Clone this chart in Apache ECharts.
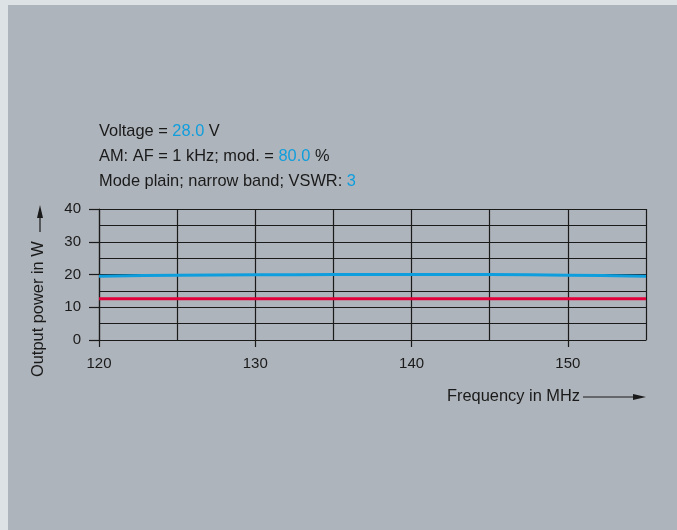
<!DOCTYPE html>
<html>
<head>
<meta charset="utf-8">
<script src="https://cdn.jsdelivr.net/npm/echarts@6/dist/echarts.min.js"></script>
<style>
  html, body { margin: 0; padding: 0; background: #dde2e5; }
  #panel { position: absolute; left: 8px; top: 5px; width: 669px; height: 525px; background: #aeb4bb; }
  #chart { position: absolute; left: 0; top: 0; width: 677px; height: 530px; }
</style>
</head>
<body>
<div id="panel"></div>
<div id="chart"></div>
<script>
// Frequency sweep (MHz) and measured output power (W)
const frequencyMHz = [120, 125, 130, 135, 140, 145, 150, 155];
const powerCarrierW = [19.5, 19.8, 19.9, 20.0, 20.0, 20.0, 19.8, 19.5];
const powerAmW = [12.6, 12.6, 12.6, 12.6, 12.6, 12.6, 12.6, 12.6];

// Labelled tick positions
const xLabelTicks = [120, 130, 140, 150];
const yLabelTicks = [0, 10, 20, 30, 40];

// Test conditions
const voltageV = '28.0';
const audioFreq = '1 kHz';
const modulationPct = '80.0';
const vswr = '3';

const FONT = '"Liberation Sans", Arial, sans-serif';
const INK = '#1a1a1a';
const BLUE = '#0f9edd';
const RED = '#e2003a';

const chart = echarts.init(document.getElementById('chart'), null, { renderer: 'canvas' });

const stroke = { color: INK, width: 1.2 };
const labelStyle = { color: INK, fontFamily: FONT, fontSize: 15 };

chart.setOption({
  backgroundColor: 'transparent',
  animation: false,
  grid: { left: 99, right: 31, top: 209, bottom: 190, containLabel: false },
  xAxis: [
    { // grid lines every 5 MHz
      type: 'value', min: 120, max: 155, interval: 5,
      axisLine: { show: true, onZero: false, lineStyle: stroke },
      axisTick: { show: false }, axisLabel: { show: false },
      splitLine: { show: true, lineStyle: stroke }
    },
    { // labelled ticks every 10 MHz
      type: 'value', min: 120, max: 155, interval: 5, position: 'bottom',
      axisLine: { show: false, onZero: false },
      axisTick: { show: true, length: 7, customValues: xLabelTicks, lineStyle: stroke },
      axisLabel: Object.assign({ customValues: xLabelTicks, margin: 16 }, labelStyle),
      splitLine: { show: false }
    }
  ],
  yAxis: [
    { // grid lines every 5 W
      type: 'value', min: 0, max: 40, interval: 5,
      axisLine: { show: true, lineStyle: stroke },
      axisTick: { show: false }, axisLabel: { show: false },
      splitLine: { show: true, lineStyle: stroke }
    },
    { // labelled ticks every 10 W
      type: 'value', min: 0, max: 40, interval: 5, position: 'left',
      axisLine: { show: false },
      axisTick: { show: true, length: 10, customValues: yLabelTicks, lineStyle: stroke },
      axisLabel: Object.assign({ customValues: yLabelTicks, margin: 18 }, labelStyle),
      splitLine: { show: false }
    }
  ],
  series: [
    {
      name: 'Carrier',
      type: 'line',
      data: frequencyMHz.map((f, i) => [f, powerCarrierW[i]]),
      smooth: 0.3,
      showSymbol: false,
      lineStyle: { color: BLUE, width: 3 },
      z: 3
    },
    {
      name: 'AM',
      type: 'line',
      data: frequencyMHz.map((f, i) => [f, powerAmW[i]]),
      showSymbol: false,
      lineStyle: { color: RED, width: 3 },
      z: 3
    }
  ],
  graphic: [
    // Test-condition block above the plot
    {
      type: 'group', left: 99, top: 123,
      children: [
        { type: 'text', x: 0, y: 0, style: {
          text: 'Voltage = {v|' + voltageV + '} V',
          font: '16.4px ' + FONT, fill: INK, verticalAlign: 'top',
          rich: { v: { fill: BLUE, font: '16.4px ' + FONT } } } },
        { type: 'text', x: 0, y: 25, style: {
          text: 'AM: AF = ' + audioFreq + '; mod. = {v|' + modulationPct + '} %',
          font: '16.4px ' + FONT, fill: INK, verticalAlign: 'top',
          rich: { v: { fill: BLUE, font: '16.4px ' + FONT } } } },
        { type: 'text', x: 0, y: 50, style: {
          text: 'Mode plain; narrow band; VSWR: {v|' + vswr + '}',
          font: '16.4px ' + FONT, fill: INK, verticalAlign: 'top',
          rich: { v: { fill: BLUE, font: '16.4px ' + FONT } } } }
      ]
    },
    // x-axis title with arrow
    {
      type: 'group', left: 447, top: 388,
      children: [
        { type: 'text', x: 0, y: 0, style: { text: 'Frequency in MHz', font: '16.4px ' + FONT, fill: INK, verticalAlign: 'top' } },
        { type: 'line', shape: { x1: 136, y1: 9, x2: 188, y2: 9 }, style: { stroke: INK, lineWidth: 1.2 } },
        { type: 'polygon', shape: { points: [[186, 6], [199, 9], [186, 12]] }, style: { fill: INK } }
      ]
    },
    // y-axis title with arrow
    {
      type: 'group', left: 30, top: 205,
      children: [
        { type: 'polygon', shape: { points: [[10, 0], [7, 13], [13, 13]] }, style: { fill: INK } },
        { type: 'line', shape: { x1: 10, y1: 11, x2: 10, y2: 27 }, style: { stroke: INK, lineWidth: 1.2 } },
        { type: 'text', x: 0, y: 172, rotation: Math.PI / 2, style: { text: 'Output power in W', font: '16.4px ' + FONT, fill: INK, verticalAlign: 'top' } }
      ]
    }
  ]
});
</script>
</body>
</html>
